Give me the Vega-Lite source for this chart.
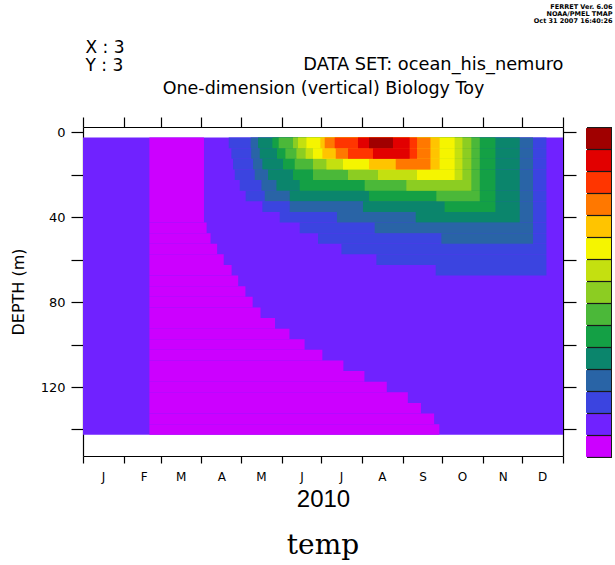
{
  "$schema": "https://vega.github.io/schema/vega-lite/v6.json",
  "autosize": {"type": "none"},
  "padding": {"left": 83, "top": 127, "right": 52, "bottom": 109},
  "width": 480,
  "height": 329,
  "background": "white",
  "title": {"text": "temp", "orient": "bottom", "anchor": "middle", "frame": "group", "font": "DejaVu Serif", "fontSize": 28, "fontWeight": "normal", "color": "black", "offset": 21},
  "config": {"view": {"stroke": null}, "axis": {"grid": false, "domainColor": "black", "tickColor": "black", "labelColor": "black", "titleColor": "black", "domainWidth": 1.2, "tickWidth": 1.2, "titleFontWeight": "normal", "titleFont": "DejaVu Sans", "labelFont": "DejaVu Sans"}},
  "data": {"values": [
    {"t0": 0, "t1": 365, "z0": 2.5, "z1": 142.5, "lev": 2},
    {"t0": 50.5, "t1": 92, "z0": 2.5, "z1": 42.5, "lev": 1},
    {"t0": 50.5, "t1": 94, "z0": 42.5, "z1": 47.5, "lev": 1},
    {"t0": 50.5, "t1": 97, "z0": 47.5, "z1": 52.5, "lev": 1},
    {"t0": 50.5, "t1": 102, "z0": 52.5, "z1": 57.5, "lev": 1},
    {"t0": 50.5, "t1": 107, "z0": 57.5, "z1": 62.5, "lev": 1},
    {"t0": 50.5, "t1": 113, "z0": 62.5, "z1": 67.5, "lev": 1},
    {"t0": 50.5, "t1": 118, "z0": 67.5, "z1": 72.5, "lev": 1},
    {"t0": 50.5, "t1": 123.5, "z0": 72.5, "z1": 77.5, "lev": 1},
    {"t0": 50.5, "t1": 129, "z0": 77.5, "z1": 82.5, "lev": 1},
    {"t0": 50.5, "t1": 135, "z0": 82.5, "z1": 87.5, "lev": 1},
    {"t0": 50.5, "t1": 146, "z0": 87.5, "z1": 92.5, "lev": 1},
    {"t0": 50.5, "t1": 157, "z0": 92.5, "z1": 97.5, "lev": 1},
    {"t0": 50.5, "t1": 168.5, "z0": 97.5, "z1": 102.5, "lev": 1},
    {"t0": 50.5, "t1": 182, "z0": 102.5, "z1": 107.5, "lev": 1},
    {"t0": 50.5, "t1": 198, "z0": 107.5, "z1": 112.5, "lev": 1},
    {"t0": 50.5, "t1": 214, "z0": 112.5, "z1": 117.5, "lev": 1},
    {"t0": 50.5, "t1": 231, "z0": 117.5, "z1": 122.5, "lev": 1},
    {"t0": 50.5, "t1": 247, "z0": 122.5, "z1": 127.5, "lev": 1},
    {"t0": 50.5, "t1": 257, "z0": 127.5, "z1": 132.5, "lev": 1},
    {"t0": 50.5, "t1": 267, "z0": 132.5, "z1": 137.5, "lev": 1},
    {"t0": 50.5, "t1": 271, "z0": 137.5, "z1": 142.5, "lev": 1},
    {"t0": 110.8, "t1": 352.4, "z0": 2.5, "z1": 7.5, "lev": 3},
    {"t0": 112.8, "t1": 352.4, "z0": 7.5, "z1": 12.5, "lev": 3},
    {"t0": 114.1, "t1": 352.4, "z0": 12.5, "z1": 17.5, "lev": 3},
    {"t0": 115.4, "t1": 352.4, "z0": 17.5, "z1": 22.5, "lev": 3},
    {"t0": 119.2, "t1": 352.4, "z0": 22.5, "z1": 27.5, "lev": 3},
    {"t0": 123.7, "t1": 352.4, "z0": 27.5, "z1": 32.5, "lev": 3},
    {"t0": 136.4, "t1": 352.4, "z0": 32.5, "z1": 37.5, "lev": 3},
    {"t0": 149.6, "t1": 352.4, "z0": 37.5, "z1": 42.5, "lev": 3},
    {"t0": 164.8, "t1": 352.4, "z0": 42.5, "z1": 47.5, "lev": 3},
    {"t0": 178.7, "t1": 352.4, "z0": 47.5, "z1": 52.5, "lev": 3},
    {"t0": 196.5, "t1": 352.4, "z0": 52.5, "z1": 57.5, "lev": 3},
    {"t0": 223.1, "t1": 352.4, "z0": 57.5, "z1": 62.5, "lev": 3},
    {"t0": 268.2, "t1": 352.4, "z0": 62.5, "z1": 67.5, "lev": 3},
    {"t0": 127.5, "t1": 342.2, "z0": 2.5, "z1": 7.5, "lev": 4},
    {"t0": 127.9, "t1": 342.2, "z0": 7.5, "z1": 12.5, "lev": 4},
    {"t0": 129.3, "t1": 342.2, "z0": 12.5, "z1": 17.5, "lev": 4},
    {"t0": 130.6, "t1": 342.2, "z0": 17.5, "z1": 22.5, "lev": 4},
    {"t0": 135.7, "t1": 342.2, "z0": 22.5, "z1": 27.5, "lev": 4},
    {"t0": 138.2, "t1": 342.2, "z0": 27.5, "z1": 32.5, "lev": 4},
    {"t0": 157.2, "t1": 342.2, "z0": 32.5, "z1": 37.5, "lev": 4},
    {"t0": 193.1, "t1": 342.2, "z0": 37.5, "z1": 42.5, "lev": 4},
    {"t0": 221.8, "t1": 342.2, "z0": 42.5, "z1": 47.5, "lev": 4},
    {"t0": 272.5, "t1": 342.2, "z0": 47.5, "z1": 52.5, "lev": 4},
    {"t0": 133.1, "t1": 332.1, "z0": 2.5, "z1": 7.5, "lev": 5},
    {"t0": 134.4, "t1": 332.1, "z0": 7.5, "z1": 12.5, "lev": 5},
    {"t0": 136.4, "t1": 332.1, "z0": 12.5, "z1": 17.5, "lev": 5},
    {"t0": 140.7, "t1": 332.1, "z0": 17.5, "z1": 22.5, "lev": 5},
    {"t0": 147.1, "t1": 332.1, "z0": 22.5, "z1": 27.5, "lev": 5},
    {"t0": 157.2, "t1": 332.1, "z0": 27.5, "z1": 32.5, "lev": 5},
    {"t0": 212.9, "t1": 332.1, "z0": 32.5, "z1": 37.5, "lev": 5},
    {"t0": 253.0, "t1": 332.1, "z0": 37.5, "z1": 42.5, "lev": 5},
    {"t0": 144.0, "t1": 313.6, "z0": 2.5, "z1": 7.5, "lev": 6},
    {"t0": 147.5, "t1": 313.6, "z0": 7.5, "z1": 12.5, "lev": 6},
    {"t0": 152.1, "t1": 313.6, "z0": 12.5, "z1": 17.5, "lev": 6},
    {"t0": 159.7, "t1": 313.6, "z0": 17.5, "z1": 22.5, "lev": 6},
    {"t0": 164.8, "t1": 313.6, "z0": 22.5, "z1": 27.5, "lev": 6},
    {"t0": 217.5, "t1": 313.6, "z0": 27.5, "z1": 32.5, "lev": 6},
    {"t0": 275.0, "t1": 313.6, "z0": 32.5, "z1": 37.5, "lev": 6},
    {"t0": 148.8, "t1": 301.7, "z0": 2.5, "z1": 7.5, "lev": 7},
    {"t0": 153.9, "t1": 301.7, "z0": 7.5, "z1": 12.5, "lev": 7},
    {"t0": 161.0, "t1": 301.7, "z0": 12.5, "z1": 17.5, "lev": 7},
    {"t0": 174.9, "t1": 301.7, "z0": 17.5, "z1": 22.5, "lev": 7},
    {"t0": 214.2, "t1": 301.7, "z0": 22.5, "z1": 27.5, "lev": 7},
    {"t0": 268.7, "t1": 301.7, "z0": 27.5, "z1": 32.5, "lev": 7},
    {"t0": 159.7, "t1": 295.3, "z0": 2.5, "z1": 7.5, "lev": 8},
    {"t0": 162.3, "t1": 295.3, "z0": 7.5, "z1": 12.5, "lev": 8},
    {"t0": 174.9, "t1": 295.3, "z0": 12.5, "z1": 17.5, "lev": 8},
    {"t0": 201.5, "t1": 295.3, "z0": 17.5, "z1": 22.5, "lev": 8},
    {"t0": 245.9, "t1": 295.3, "z0": 22.5, "z1": 27.5, "lev": 8},
    {"t0": 163.5, "t1": 288.5, "z0": 2.5, "z1": 7.5, "lev": 9},
    {"t0": 169.3, "t1": 288.5, "z0": 7.5, "z1": 12.5, "lev": 9},
    {"t0": 185.1, "t1": 288.5, "z0": 12.5, "z1": 17.5, "lev": 9},
    {"t0": 224.3, "t1": 288.5, "z0": 17.5, "z1": 22.5, "lev": 9},
    {"t0": 169.9, "t1": 282.6, "z0": 2.5, "z1": 7.5, "lev": 10},
    {"t0": 174.9, "t1": 282.6, "z0": 7.5, "z1": 12.5, "lev": 10},
    {"t0": 197.7, "t1": 282.6, "z0": 12.5, "z1": 17.5, "lev": 10},
    {"t0": 254.0, "t1": 282.6, "z0": 17.5, "z1": 22.5, "lev": 10},
    {"t0": 180.5, "t1": 271.2, "z0": 2.5, "z1": 7.5, "lev": 11},
    {"t0": 182.0, "t1": 271.2, "z0": 7.5, "z1": 12.5, "lev": 11},
    {"t0": 217.5, "t1": 271.2, "z0": 12.5, "z1": 17.5, "lev": 11},
    {"t0": 183.8, "t1": 264.2, "z0": 2.5, "z1": 7.5, "lev": 12},
    {"t0": 192.2, "t1": 264.2, "z0": 7.5, "z1": 12.5, "lev": 12},
    {"t0": 237.8, "t1": 264.2, "z0": 12.5, "z1": 17.5, "lev": 12},
    {"t0": 191.4, "t1": 254.0, "z0": 2.5, "z1": 7.5, "lev": 13},
    {"t0": 201.5, "t1": 254.0, "z0": 7.5, "z1": 12.5, "lev": 13},
    {"t0": 209.1, "t1": 248.4, "z0": 2.5, "z1": 7.5, "lev": 14},
    {"t0": 220.5, "t1": 248.4, "z0": 7.5, "z1": 12.5, "lev": 14},
    {"t0": 217.5, "t1": 235.7, "z0": 2.5, "z1": 7.5, "lev": 15}
  ]},
  "resolve": {"scale": {"x": "shared", "y": "shared"}, "axis": {"x": "independent", "y": "independent"}},
  "layer": [
    {
      "mark": {"type": "rect"},
      "encoding": {
        "x": {"field": "t0", "type": "quantitative", "scale": {"domain": [0, 365], "nice": false, "zero": false},
          "axis": {"orient": "bottom", "values": [0, 31, 59, 90, 120, 151, 181, 212, 243, 273, 304, 334, 365],
            "labelExpr": "['J','F','M','A','M','J','J','A','S','O','N','D',''][indexof([0,31,59,90,120,151,181,212,243,273,304,334,365], datum.value)]",
            "labelOffset": 20, "labelAngle": 0, "labelFlush": false, "labelOverlap": false, "tickSize": 7, "labelPadding": 8, "labelFontSize": 12,
            "title": "2010", "titleFont": "Liberation Sans", "titleFontSize": 24, "titleX": 240, "titleY": 43, "titleBaseline": "middle", "titleAlign": "center"}},
        "x2": {"field": "t1"},
        "y": {"field": "z0", "type": "quantitative", "scale": {"domain": [-2.5, 152.5], "reverse": true, "nice": false, "zero": false},
          "axis": {"orient": "left", "values": [0, 20, 40, 60, 80, 100, 120, 140], "labelExpr": "datum.value % 40 == 0 ? datum.label : ''",
            "tickSize": 12, "labelPadding": 6, "labelFontSize": 13, "labelFlush": false, "labelOverlap": false,
            "title": "DEPTH (m)", "titleFontSize": 16, "titleX": -65, "titleY": 164.5, "titleAngle": 270, "titleBaseline": "middle", "titleAlign": "center"}},
        "y2": {"field": "z1"},
        "color": {"field": "lev", "type": "ordinal",
          "scale": {"domain": [15, 14, 13, 12, 11, 10, 9, 8, 7, 6, 5, 4, 3, 2, 1],
            "range": ["#a00000", "#e20000", "#ff3500", "#ff7800", "#ffc400", "#f5f500", "#c4e010", "#8ccd22", "#4bb839", "#14a045", "#0b856c", "#2964a6", "#3b44e0", "#7022ff", "#cc00ff"]},
          "legend": {"orient": "none", "legendX": 504, "legendY": 0, "title": null, "symbolType": "M-1.2,-1H1.2V1H-1.2Z", "symbolSize": 432.6, "rowPadding": 1, "padding": 1,
            "fillColor": "#1a1a1a", "labelExpr": "''", "labelFontSize": 1, "labelOffset": 0, "symbolStrokeWidth": 0, "symbolOpacity": 1, "direction": "vertical"}}
      }
    },
    {
      "mark": {"type": "point", "opacity": 0},
      "encoding": {
        "x": {"field": "t0", "type": "quantitative", "scale": {"domain": [0, 365], "nice": false, "zero": false},
          "axis": {"orient": "top", "values": [0, 31, 59, 90, 120, 151, 181, 212, 243, 273, 304, 334, 365], "labels": false, "tickSize": 10,
            "title": "One-dimension (vertical) Biology Toy", "titleFontSize": 17.5, "titleX": 240, "titleY": -39, "titleBaseline": "middle", "titleAlign": "center"}},
        "y": {"field": "z0", "type": "quantitative", "scale": {"domain": [-2.5, 152.5], "reverse": true, "nice": false, "zero": false},
          "axis": {"orient": "right", "values": [0, 20, 40, 60, 80, 100, 120, 140], "labels": false, "tickSize": 13,
            "title": "DATA SET: ocean_his_nemuro", "titleFontSize": 17.8, "titleAngle": 0, "titleAlign": "right", "titleX": 0, "titleY": -63, "titleBaseline": "middle"}}
      }
    },
    {
      "mark": {"type": "point", "opacity": 0},
      "encoding": {
        "x": {"field": "t1", "type": "quantitative", "scale": {"domain": [0, 365], "nice": false, "zero": false},
          "axis": {"orient": "top", "domain": false, "ticks": false, "labels": false,
            "title": ["X : 3", "Y : 3"], "titleFontSize": 17, "titleX": 2, "titleY": -88, "titleAlign": "left", "titleBaseline": "top", "titleLineHeight": 18.5}},
        "y": {"field": "z1", "type": "quantitative", "scale": {"domain": [-2.5, 152.5], "reverse": true, "nice": false, "zero": false},
          "axis": {"orient": "right", "domain": false, "ticks": false, "labels": false,
            "title": ["FERRET Ver. 6.06", "NOAA/PMEL TMAP", "Oct 31 2007 16:40:26"], "titleFontSize": 6.5, "titleFontWeight": "bold", "titleAngle": 0, "titleAlign": "right", "titleX": 49, "titleY": -124, "titleBaseline": "top", "titleLineHeight": 7}}
      }
    }
  ]
}
